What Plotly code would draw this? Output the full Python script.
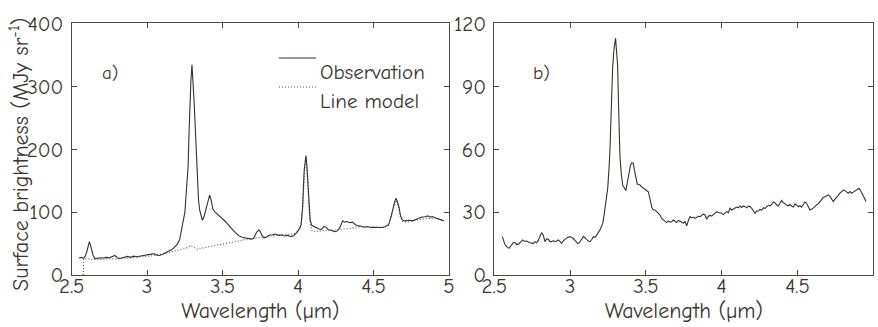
import plotly.graph_objects as go
from plotly.subplots import make_subplots

# ---------------- data ----------------
obs_a_wl = [2.548, 2.565, 2.577, 2.590, 2.600, 2.610, 2.617, 2.625, 2.632, 2.642, 2.654, 2.670, 2.690, 2.710,
            2.730, 2.750, 2.770, 2.786, 2.800, 2.810, 2.830, 2.850, 2.870, 2.890, 2.910, 2.930, 2.950, 2.970,
            2.990, 3.010, 3.030, 3.045, 3.060, 3.080, 3.100, 3.120, 3.140, 3.160, 3.180, 3.200, 3.215, 3.228,
            3.240, 3.250, 3.260, 3.271, 3.278, 3.284, 3.290, 3.297, 3.303, 3.310, 3.316, 3.322, 3.330, 3.340,
            3.348, 3.358, 3.366, 3.376, 3.387, 3.400, 3.414, 3.425, 3.436, 3.450, 3.470, 3.490, 3.510, 3.530,
            3.550, 3.570, 3.590, 3.610, 3.630, 3.650, 3.670, 3.690, 3.705, 3.715, 3.725, 3.740, 3.750, 3.760,
            3.775, 3.790, 3.810, 3.830, 3.850, 3.870, 3.890, 3.910, 3.930, 3.950, 3.970, 3.990, 4.010, 4.020,
            4.030, 4.040, 4.047, 4.052, 4.058, 4.065, 4.072, 4.080, 4.090, 4.105, 4.120, 4.140, 4.155, 4.170,
            4.185, 4.200, 4.220, 4.240, 4.255, 4.270, 4.285, 4.295, 4.310, 4.325, 4.340, 4.360, 4.380, 4.400,
            4.420, 4.440, 4.460, 4.480, 4.500, 4.520, 4.540, 4.560, 4.580, 4.600, 4.615, 4.630, 4.642, 4.650,
            4.660, 4.668, 4.678, 4.690, 4.705, 4.720, 4.740, 4.760, 4.780, 4.800, 4.820, 4.840, 4.860, 4.875,
            4.890, 4.910, 4.930, 4.950, 4.965]
obs_a_val = [27, 28, 26.5, 30, 37, 48, 53, 47, 40, 31, 26, 27, 27.5, 27,
             28, 27.5, 29, 31, 28, 26, 27, 28.5, 29.5, 28, 30, 29, 30, 30.5,
             31, 32, 33, 34, 32, 31, 32.5, 35, 37, 40, 44, 49, 56, 72,
             90, 100, 135, 172, 230, 283, 310, 334, 315, 280, 250, 215, 170, 120,
             103, 92, 87, 92, 103, 117, 127, 118, 104, 100, 96, 92, 87, 82,
             76, 71, 66, 62, 60, 59, 58.5, 57, 58, 62, 68, 71.5, 69, 63,
             59, 60, 63.5, 64, 65, 63, 63.5, 62, 63, 61, 62.5, 67, 74, 80,
             108, 165, 185, 190, 175, 150, 110, 88, 79, 77, 75, 73, 72.5, 77,
             76, 72, 71, 69, 69.5, 73, 80, 86, 84, 85, 83, 84, 80, 78,
             77.5, 76, 77, 75.5, 76, 75.5, 76, 75.5, 77, 80, 92, 108, 118, 122,
             114, 109, 95, 88, 86, 86.5, 87, 86, 88, 90, 92, 92.5, 94, 92,
             93, 91, 89, 88, 86]

model_a_wl = [2.577, 2.580, 2.650, 2.750, 2.850, 2.950, 3.050, 3.150, 3.220, 3.260, 3.290, 3.310, 3.330,
              3.360, 3.420, 3.500, 3.580, 3.650, 3.700, 3.760, 3.800, 3.850, 3.900, 3.960, 3.990, 4.010,
              4.020, 4.030, 4.040, 4.047, 4.052, 4.058, 4.065, 4.072, 4.080, 4.095, 4.150, 4.200, 4.250,
              4.300, 4.350, 4.400, 4.450, 4.500, 4.560, 4.600, 4.615, 4.630, 4.642, 4.650, 4.660, 4.668,
              4.678, 4.690, 4.720, 4.760, 4.800, 4.850, 4.900, 4.950]
model_a_val = [0, 26, 24.5, 25, 26.5, 28.5, 31, 36, 41, 43, 47, 44, 41,
               42.5, 45.5, 49.5, 53, 56.5, 58, 60, 62, 64, 64.5, 65, 67, 74,
               80, 105, 160, 180, 185, 170, 145, 105, 80, 69, 69.5, 71, 71.5,
               73, 74, 76.5, 76.8, 76, 76, 79, 90, 106, 116, 118, 112, 105,
               92, 85, 84, 86, 88, 90, 90, 88]

obs_b_wl = [2.553, 2.570, 2.581, 2.597, 2.614, 2.625, 2.636, 2.647, 2.658, 2.672, 2.687, 2.700, 2.713, 2.730,
            2.746, 2.757, 2.768, 2.779, 2.790, 2.801, 2.812, 2.823, 2.834, 2.845, 2.856, 2.867, 2.878, 2.889,
            2.900, 2.911, 2.922, 2.933, 2.944, 2.955, 2.966, 2.980, 2.999, 3.010, 3.021, 3.032, 3.043, 3.052,
            3.061, 3.075, 3.087, 3.098, 3.109, 3.120, 3.131, 3.142, 3.153, 3.164, 3.175, 3.186, 3.197, 3.206,
            3.215, 3.223, 3.230, 3.240, 3.248, 3.256, 3.263, 3.272, 3.281, 3.290, 3.300, 3.307, 3.314, 3.318,
            3.322, 3.329, 3.338, 3.347, 3.358, 3.368, 3.376, 3.384, 3.392, 3.399, 3.408, 3.417, 3.423, 3.428,
            3.436, 3.443, 3.452, 3.461, 3.472, 3.483, 3.500, 3.516, 3.524, 3.531, 3.540, 3.549, 3.560, 3.571,
            3.582, 3.593, 3.604, 3.615, 3.626, 3.637, 3.648, 3.659, 3.670, 3.681, 3.692, 3.703, 3.714, 3.725,
            3.736, 3.748, 3.758, 3.769, 3.780, 3.791, 3.802, 3.813, 3.824, 3.835, 3.846, 3.857, 3.868, 3.879,
            3.890, 3.901, 3.912, 3.923, 3.934, 3.945, 3.956, 3.967, 3.978, 3.989, 4.000, 4.011, 4.022, 4.033,
            4.044, 4.055, 4.066, 4.077, 4.088, 4.099, 4.110, 4.121, 4.132, 4.143, 4.154, 4.165, 4.176, 4.187,
            4.198, 4.209, 4.220, 4.231, 4.242, 4.253, 4.264, 4.275, 4.286, 4.297, 4.308, 4.318, 4.329, 4.340,
            4.351, 4.362, 4.373, 4.384, 4.395, 4.406, 4.417, 4.428, 4.439, 4.450, 4.461, 4.472, 4.483, 4.494,
            4.505, 4.516, 4.527, 4.538, 4.549, 4.560, 4.571, 4.582, 4.593, 4.604, 4.615, 4.626, 4.637, 4.648,
            4.659, 4.670, 4.681, 4.692, 4.703, 4.714, 4.725, 4.736, 4.747, 4.758, 4.769, 4.780, 4.791, 4.802,
            4.813, 4.824, 4.835, 4.846, 4.857, 4.868, 4.879, 4.890, 4.899, 4.908, 4.916, 4.923, 4.935, 4.952]
obs_b_val = [18.3, 14.5, 13.5, 12.7, 14.3, 15.5, 15.4, 14.6, 14.6, 15.8, 16.7, 16.0, 16.2, 15.5,
             15.4, 15.0, 15.9, 15.4, 16.5, 18.0, 20.2, 19.0, 15.9, 17.2, 17.0, 16.0, 15.9, 16.4,
             15.9, 16.2, 16.7, 16.0, 15.1, 16.3, 17.0, 17.8, 18.3, 18.0, 17.5, 16.5, 15.9, 15.0,
             15.4, 17.0, 18.3, 17.8, 17.0, 16.2, 15.9, 16.8, 18.3, 18.0, 19.0, 20.0, 21.5, 23.0,
             24.6, 28.0, 32.6, 37.0, 41.3, 50.0, 59.6, 80.0, 99.4, 108.0, 112.9, 106.0, 99.4, 85.0,
             70.7, 56.4, 48.0, 42.9, 41.5, 40.2, 43.5, 46.9, 50.5, 52.5, 53.5, 53.3, 50.5, 48.5,
             45.0, 43.4, 43.2, 42.9, 42.0, 41.3, 40.5, 39.7, 37.0, 34.2, 32.0, 31.0, 31.0, 30.2,
             29.5, 28.6, 27.0, 26.2, 25.5, 25.0, 25.8, 25.2, 25.4, 26.2, 25.6, 25.0, 26.0, 25.6,
             25.4, 24.8, 25.5, 23.4, 26.0, 27.8, 27.2, 27.6, 27.0, 27.4, 28.0, 27.8, 28.4, 29.0,
             28.6, 26.6, 28.0, 28.4, 28.1, 28.8, 29.5, 30.2, 29.8, 29.6, 29.4, 28.8, 29.6, 30.2,
             29.7, 31.8, 31.0, 31.6, 31.8, 32.4, 32.0, 32.9, 32.2, 32.9, 32.6, 32.0, 32.8, 32.6,
             31.8, 30.8, 29.4, 30.6, 30.5, 31.3, 31.0, 32.0, 31.8, 32.6, 33.2, 32.9, 33.5, 34.8,
             34.5, 33.5, 32.9, 34.2, 35.5, 34.5, 33.8, 33.4, 33.0, 33.6, 32.9, 32.4, 33.8, 33.4,
             32.5, 33.0, 32.3, 33.6, 34.8, 34.2, 32.5, 31.0, 31.3, 31.8, 32.6, 33.5, 33.9, 35.0,
             36.2, 37.0, 37.3, 37.8, 38.2, 37.5, 36.2, 35.0, 36.2, 37.4, 38.0, 39.0, 39.7, 40.5,
             40.2, 39.5, 39.0, 39.8, 39.0, 39.5, 40.2, 40.5, 41.0, 41.3, 40.5, 39.3, 37.5, 35.0]

x_ticks = [2.5, 3, 3.5, 4, 4.5, 5]
x_tick_labels = ["2.5", "3", "3.5", "4", "4.5", "5"]
y_ticks_a = [0, 100, 200, 300, 400]
y_ticks_b = [0, 30, 60, 90, 120]

# ---------------- style ----------------
W, H = 878, 327
FONT = "Comic Sans MS, Comic Neue, DejaVu Sans, sans-serif"
TXT = "#3b3431"
AX = "#4d4643"
LINE = "#3a302c"
DOT = "#5a5350"

fig = make_subplots(rows=1, cols=2)

fig.add_trace(go.Scatter(x=model_a_wl, y=model_a_val, mode="lines", name="Line model",
                         line=dict(color=DOT, width=1.1, dash="1px,2px"), showlegend=False),
              row=1, col=1)
fig.add_trace(go.Scatter(x=obs_a_wl, y=obs_a_val, mode="lines", name="Observation",
                         line=dict(color=LINE, width=1.1), showlegend=False),
              row=1, col=1)
fig.add_trace(go.Scatter(x=obs_b_wl, y=obs_b_val, mode="lines", name="Observation",
                         line=dict(color=LINE, width=1.1), showlegend=False),
              row=1, col=2)

def px_x(p):
    return p / W

def px_y(p):
    return 1 - p / H

axis_common = dict(showline=True, linecolor=AX, linewidth=1.2, mirror="ticks",
                   ticks="inside", ticklen=5, tickwidth=1.2, tickcolor=AX,
                   showgrid=False, zeroline=False, automargin=False,
                   tickfont=dict(family=FONT, size=21, color=TXT))

fig.update_xaxes(**axis_common, range=[2.5, 5], tickvals=x_ticks, ticktext=x_tick_labels,
                 ticklabelstandoff=-8,
                 title=dict(text="Wavelength (µm)", font=dict(family=FONT, size=22, color=TXT), standoff=4))
fig.update_yaxes(**axis_common, ticklabelstandoff=3)

fig.update_layout(
    width=W, height=H,
    margin=dict(l=0, r=0, t=0, b=0, autoexpand=False),
    paper_bgcolor="white", plot_bgcolor="white",
    xaxis=dict(domain=[px_x(71.7), px_x(449)]),
    xaxis2=dict(domain=[px_x(494.3), px_x(873.3)]),
    yaxis=dict(domain=[px_y(275), px_y(23.3)], range=[0, 400], tickvals=y_ticks_a),
    yaxis2=dict(domain=[px_y(275), px_y(23.3)], range=[0, 120], tickvals=y_ticks_b),
)

# y axis title placed at the reference position
fig.add_annotation(x=px_x(19), y=px_y(155), xref="paper", yref="paper", xanchor="center", yanchor="middle",
                   text="Surface brightness (MJy sr<sup>-1</sup>)", showarrow=False, textangle=-90,
                   font=dict(family=FONT, size=22, color=TXT))

# panel labels
fig.add_annotation(x=px_x(110), y=px_y(60), xref="paper", yref="paper", xanchor="center", text="a)",
                   showarrow=False, font=dict(family=FONT, size=19, color=TXT))
fig.add_annotation(x=px_x(541), y=px_y(60), xref="paper", yref="paper", xanchor="center", text="b)",
                   showarrow=False, font=dict(family=FONT, size=19, color=TXT))

# legend (drawn in paper space)
fig.add_shape(type="line", xref="paper", yref="paper", x0=px_x(279), x1=px_x(316), y0=px_y(58), y1=px_y(58),
              line=dict(color=LINE, width=1.1))
fig.add_shape(type="line", xref="paper", yref="paper", x0=px_x(279), x1=px_x(316), y0=px_y(87), y1=px_y(87),
              line=dict(color=DOT, width=1.1, dash="1px,2px"))
fig.add_annotation(x=px_x(318), y=px_y(58), xref="paper", yref="paper", text="Observation", showarrow=False,
                   xanchor="left", font=dict(family=FONT, size=21, color=TXT))
fig.add_annotation(x=px_x(318), y=px_y(87), xref="paper", yref="paper", text="Line model", showarrow=False,
                   xanchor="left", font=dict(family=FONT, size=21, color=TXT))

fig.write_html("out.html", config={"displayModeBar": False},
               post_script="document.body.style.margin='0px';")
